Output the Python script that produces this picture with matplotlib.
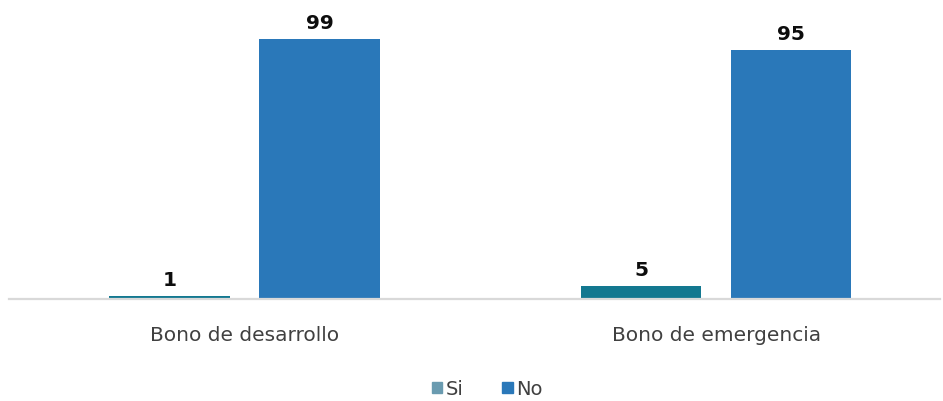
import matplotlib.pyplot as plt
import numpy as np
from matplotlib.patches import Patch

# data
categories = ['Bono de desarrollo', 'Bono de emergencia']
series_names = ['Si', 'No']
si_values = [1, 5]
no_values = [99, 95]

si_color = '#137890'
si_legend_color = '#6a9bb0'
no_color = '#2a78b9'

fig = plt.figure(figsize=(9.43, 4.02), dpi=100)
ax = fig.add_axes([9 / 943, 102 / 402, 931 / 943, 262.6 / 402])

x = np.arange(len(categories))
width = 0.256
offset = 0.159

bars_si = ax.bar(x - offset, si_values, width, color=si_color)
bars_no = ax.bar(x + offset, no_values, width, color=no_color)

# value labels above bars
for bars in (bars_si, bars_no):
    for b in bars:
        ax.annotate(f'{b.get_height():.0f}',
                    (b.get_x() + b.get_width() / 2, b.get_height()),
                    xytext=(0, 5), textcoords='offset points',
                    ha='center', va='bottom', fontsize=14.5,
                    fontweight='bold', color='#0d0d0d')

ax.set_xlim(-0.5, 1.475)
ax.set_ylim(0, 100)
ax.set_xticks(x)
ax.set_xticklabels(categories, fontsize=14.5, color='#404040')
ax.tick_params(axis='x', length=0, pad=19)
ax.set_yticks([])

for side in ('top', 'right', 'left'):
    ax.spines[side].set_visible(False)
ax.spines['bottom'].set_color('#d9d9d9')
ax.spines['bottom'].set_linewidth(1.6)

# legend (Si patch drawn lighter in the original)
handles = [Patch(color=si_legend_color), Patch(color=no_color)]
fig.legend(handles, series_names, loc='center', bbox_to_anchor=(487 / 943, 1 - 390 / 402),
           ncol=2, frameon=False, fontsize=14, handlelength=0.55, handleheight=0.55,
           handletextpad=0.15, columnspacing=2.0, labelcolor='#404040')

fig.savefig('out.png', dpi=100)
